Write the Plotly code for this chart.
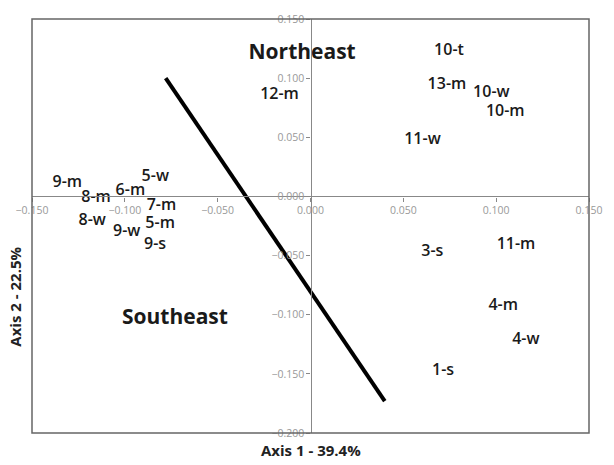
import plotly.graph_objects as go

labels = ["10-t", "13-m", "10-w", "10-m", "11-w", "12-m",
          "9-m", "8-m", "6-m", "5-w", "7-m", "8-w", "5-m", "9-w", "9-s",
          "3-s", "11-m", "4-m", "4-w", "1-s"]
axis1 = [0.0746, 0.0735, 0.0974, 0.1049, 0.0603, -0.0167,
         -0.131, -0.1155, -0.097, -0.0836, -0.0803, -0.1176, -0.081, -0.099, -0.0837,
         0.0656, 0.1107, 0.1038, 0.116, 0.0714]
axis2 = [0.1233, 0.0941, 0.0874, 0.0715, 0.0473, 0.0857,
         0.0114, -0.001, 0.0047, 0.0164, -0.0079, -0.0204, -0.023, -0.0304, -0.0414,
         -0.047, -0.0414, -0.093, -0.1216, -0.1474]

divider_x = [-0.078, 0.040]
divider_y = [0.100, -0.173]

region_names = ["Northeast", "Southeast"]
region_x = [-0.0045, -0.073]
region_y = [0.121, -0.103]

x_range = [-0.15, 0.15]
y_range = [-0.20, 0.15]

fig = go.Figure()
fig.add_trace(go.Scatter(x=divider_x, y=divider_y, mode="lines",
                         line=dict(color="black", width=4), hoverinfo="skip"))
fig.add_trace(go.Scatter(x=axis1, y=axis2, mode="text", text=labels,
                         textposition="middle center",
                         textfont=dict(family="Open Sans", size=16, color="#1a1a1a", weight=600)))
fig.add_trace(go.Scatter(x=region_x, y=region_y, mode="text", text=region_names,
                         textposition="middle center",
                         textfont=dict(family="Open Sans", size=21, color="#1a1a1a", weight=700)))

ypos = (0 - y_range[0]) / (y_range[1] - y_range[0])
xpos = (0 - x_range[0]) / (x_range[1] - x_range[0])

fig.update_layout(
    width=614, height=465,
    margin=dict(l=32, r=17, t=14, b=32),
    paper_bgcolor="white", plot_bgcolor="white",
    showlegend=False,
    font=dict(family="Open Sans"),
    xaxis=dict(range=x_range, dtick=0.05, tick0=0, tickformat=".3f",
               showgrid=False, zeroline=False, showline=True, linecolor="#888", linewidth=1.2,
               anchor="free", position=ypos, ticks="outside", ticklen=4, tickcolor="#888",
               tickfont=dict(size=10.5, color="#999")),
    yaxis=dict(range=y_range, dtick=0.05, tick0=0, tickformat=".3f",
               showgrid=False, zeroline=False, showline=True, linecolor="#888", linewidth=1.2,
               anchor="free", position=xpos, ticks="outside", ticklen=4, tickcolor="#888",
               tickfont=dict(size=10.5, color="#999")),
    shapes=[dict(type="rect", xref="paper", yref="paper", x0=0, y0=0, x1=1, y1=1,
                 line=dict(color="#666", width=1.5))],
    annotations=[
        dict(text="<b>Axis 1 - 39.4%</b>", xref="paper", yref="paper", x=0.5, y=-0.041,
             xanchor="center", yanchor="middle", showarrow=False,
             font=dict(size=15, color="#222")),
        dict(text="<b>Axis 2 - 22.5%</b>", xref="paper", yref="paper", x=-0.030, y=0.33,
             xanchor="center", yanchor="middle", showarrow=False, textangle=-90,
             font=dict(size=15, color="#222")),
    ],
)

fig.write_html("out.html")
